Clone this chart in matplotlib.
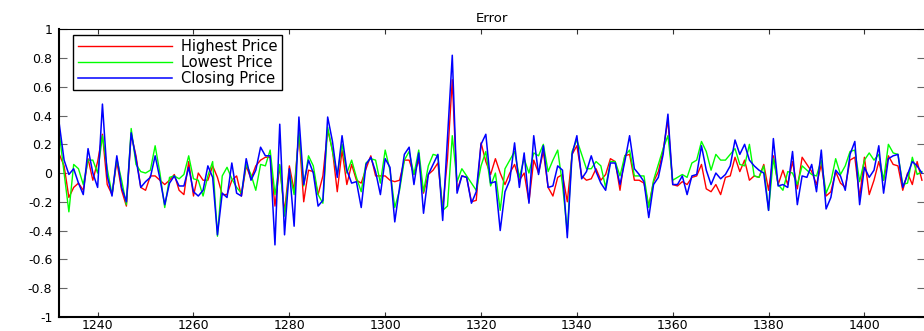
import numpy as np
import matplotlib
matplotlib.use("Agg")
import matplotlib.pyplot as plt

# sample index on the x axis
index = np.arange(1232, 1413)

highest = [
    0.13, 0.05, -0.17, -0.1, -0.07, -0.12, 0.1, -0.05, 0.08, 0.27,
    -0.08, -0.15, 0.08, -0.12, -0.23, 0.27, 0.12, -0.1, -0.12, -0.02,
    -0.02, -0.05, -0.08, -0.05, -0.01, -0.12, -0.15, 0.08, -0.16, 0.0,
    -0.05, -0.05, 0.05, -0.03, -0.15, -0.15, -0.05, -0.02, -0.16, 0.05,
    -0.04, 0.05, 0.09, 0.11, 0.11, -0.23, 0.05, -0.27, 0.05, -0.12,
    0.28, -0.2, 0.02, 0.01, -0.15, -0.02, 0.3, 0.16, -0.13, 0.16,
    -0.08, 0.06, -0.05, -0.07, 0.03, 0.12, -0.02, -0.02, -0.02, -0.05,
    -0.06, -0.05, 0.09, 0.09, -0.01, 0.09, -0.14, -0.01, 0.02, 0.07,
    -0.25, 0.1, 0.65, -0.12, -0.02, -0.03, -0.2, -0.19, 0.21, 0.08,
    -0.01, 0.1, 0.0, -0.08, 0.0, 0.06, -0.05, 0.0, -0.2, 0.09,
    0.0, 0.15, -0.1, -0.16, -0.03, -0.01, -0.2, 0.13, 0.19, -0.02,
    -0.05, -0.04, 0.03, -0.05, -0.01, 0.1, 0.08, -0.12, 0.12, 0.13,
    -0.05, -0.05, -0.07, -0.23, -0.06, 0.01, 0.16, 0.37, -0.08, -0.09,
    -0.06, -0.08, -0.03, -0.02, 0.06, -0.11, -0.13, -0.08, -0.15, -0.03,
    -0.02, 0.11, 0.01, 0.09, -0.05, -0.02, -0.03, 0.06, -0.12, 0.12,
    -0.08, 0.02, -0.08, 0.08, -0.11, 0.11, 0.06, 0.01, -0.08, 0.06,
    -0.16, -0.13, 0.01, -0.07, -0.1, 0.09, 0.11, -0.17, 0.11, -0.15,
    -0.05, 0.08, -0.05, 0.12, 0.06, 0.05, -0.12, 0.0, -0.08, 0.08, -0.05,
]

lowest = [
    0.28, 0.0, -0.27, 0.06, 0.03, -0.08, 0.09, 0.09, 0.0, 0.26,
    0.03, -0.15, 0.1, -0.05, -0.22, 0.31, 0.06, 0.01, 0.0, 0.02,
    0.19, 0.0, -0.24, -0.03, -0.02, -0.04, -0.01, 0.12, -0.04, -0.05,
    -0.16, -0.02, 0.08, -0.44, -0.02, 0.04, -0.04, -0.1, -0.14, 0.06,
    -0.01, -0.12, 0.06, 0.05, 0.16, -0.15, 0.06, -0.3, 0.01, -0.15,
    0.29, -0.09, 0.12, 0.05, -0.15, -0.21, 0.32, 0.15, -0.01, 0.2,
    0.0, 0.09, -0.03, -0.13, 0.07, 0.1, 0.09, -0.07, 0.16, 0.02,
    -0.24, -0.12, 0.09, 0.15, -0.01, 0.16, -0.13, 0.05, 0.13, 0.12,
    -0.26, -0.23, 0.26, -0.06, 0.03, -0.02, -0.07, -0.12, 0.05, 0.15,
    -0.09, 0.0, -0.26, 0.03, 0.09, 0.15, -0.03, 0.1, 0.0, 0.14,
    0.12, 0.2, 0.01, 0.09, 0.16, -0.08, -0.41, 0.15, 0.23, 0.13,
    0.03, 0.03, 0.08, 0.05, -0.1, 0.08, 0.08, -0.02, 0.12, 0.16,
    -0.02, -0.02, -0.02, -0.24, -0.05, 0.06, 0.17, 0.26, -0.05, -0.03,
    -0.01, -0.03, 0.07, 0.09, 0.22, 0.15, 0.02, 0.13, 0.09, 0.09,
    0.13, 0.17, 0.06, 0.05, 0.2, -0.02, -0.03, 0.05, -0.26, 0.1,
    -0.08, -0.12, 0.01, 0.0, -0.08, 0.05, 0.02, -0.01, -0.02, 0.09,
    -0.14, -0.06, 0.1, -0.01, 0.05, 0.15, 0.16, -0.06, 0.09, 0.14,
    0.09, 0.13, -0.05, 0.2, 0.14, 0.13, -0.08, -0.07, 0.11, -0.01, 0.01,
]

closing = [
    0.34, 0.09, -0.01, 0.03, -0.07, -0.15, 0.17, 0.0, -0.1, 0.48,
    -0.02, -0.16, 0.12, -0.1, -0.2, 0.28, 0.1, -0.1, -0.06, -0.03,
    0.12, -0.04, -0.22, -0.07, -0.02, -0.09, -0.09, 0.04, -0.13, -0.16,
    -0.12, 0.05, -0.03, -0.43, -0.14, -0.17, 0.07, -0.14, -0.16, 0.1,
    -0.05, 0.02, 0.18, 0.12, 0.12, -0.5, 0.34, -0.43, 0.03, -0.37,
    0.39, -0.08, 0.09, 0.0, -0.23, -0.19, 0.39, 0.22, -0.03, 0.26,
    0.02, -0.07, -0.06, -0.24, 0.06, 0.11, 0.01, -0.15, 0.1, 0.04,
    -0.34, -0.1, 0.13, 0.18, -0.08, 0.14, -0.28, -0.01, 0.06, 0.13,
    -0.33, 0.24, 0.82, -0.14, -0.02, -0.03, -0.21, -0.13, 0.2, 0.27,
    -0.07, -0.06, -0.4, -0.13, -0.05, 0.21, -0.1, 0.14, -0.21, 0.26,
    -0.01, 0.19, -0.1, -0.09, 0.05, 0.02, -0.45, 0.13, 0.26, -0.04,
    0.01, 0.12, 0.01, -0.07, -0.12, 0.07, 0.07, -0.08, 0.08, 0.26,
    0.03, -0.01, -0.06, -0.31, -0.08, -0.03, 0.13, 0.41, -0.08, -0.08,
    -0.02, -0.15, -0.02, -0.01, 0.19, 0.02, -0.08, 0.0, -0.04, -0.01,
    0.05, 0.23, 0.13, 0.2, 0.09, 0.05, 0.02, 0.0, -0.26, 0.24,
    -0.09, -0.08, -0.1, 0.15, -0.22, -0.02, -0.03, 0.06, -0.13, 0.16,
    -0.25, -0.17, 0.02, -0.02, -0.12, 0.13, 0.22, -0.22, 0.04, -0.03,
    0.02, 0.19, -0.14, 0.1, 0.12, 0.13, -0.1, -0.01, 0.08, 0.05, 0.0,
]

series_names = ['Highest Price', 'Lowest Price', 'Closing Price']
series_colors = ['#ff0000', '#00ff00', '#0000ff']

x_ticks = [1240, 1260, 1280, 1300, 1320, 1340, 1360, 1380, 1400]
y_ticks = [-1, -0.8, -0.6, -0.4, -0.2, 0, 0.2, 0.4, 0.6, 0.8, 1]
y_tick_labels = ['-1', '-0.8', '-0.6', '-0.4', '-0.2', '0',
                 '0.2', '0.4', '0.6', '0.8', '1']

plt.rcParams['font.family'] = ['DejaVu Sans']
plt.rcParams['axes.unicode_minus'] = False

fig = plt.figure(figsize=(9.24, 3.31), dpi=100)
ax = fig.add_axes([59.3 / 924, 14.3 / 331, 865.5 / 924, 287.3 / 331])

for values, name, color, lw in zip([highest, lowest, closing], series_names,
                                    series_colors, [1.0, 1.0, 1.1]):
    ax.plot(index, values, color=color, lw=lw, label=name)

ax.set_xlim(1232, 1412.6)
ax.set_ylim(-1, 1)
ax.set_xticks(x_ticks)
ax.set_yticks(y_ticks)
ax.set_yticklabels(y_tick_labels)
ax.set_title('Error', fontsize=9.5, pad=5)

ax.tick_params(axis='both', direction='in', top=True, right=True,
               labelsize=9, colors='black')
ax.tick_params(axis='x', length=3.5, width=0.8, pad=1.5, color='#333333')
ax.tick_params(axis='y', length=5.5, width=0.8, pad=5, color='#666666')

ax.spines['left'].set_linewidth(1.5)
ax.spines['bottom'].set_linewidth(1.5)
ax.spines['top'].set_linewidth(0.8)
ax.spines['right'].set_visible(False)

leg = ax.legend(loc='upper left', bbox_to_anchor=(0.016, 0.981),
                borderaxespad=0, fontsize=10.5, handlelength=6.5,
                handletextpad=0.6, labelspacing=0.05, borderpad=0.3,
                fancybox=False, framealpha=1, edgecolor='black')
leg.get_frame().set_linewidth(1.0)

fig.savefig('out.png', dpi=100)
